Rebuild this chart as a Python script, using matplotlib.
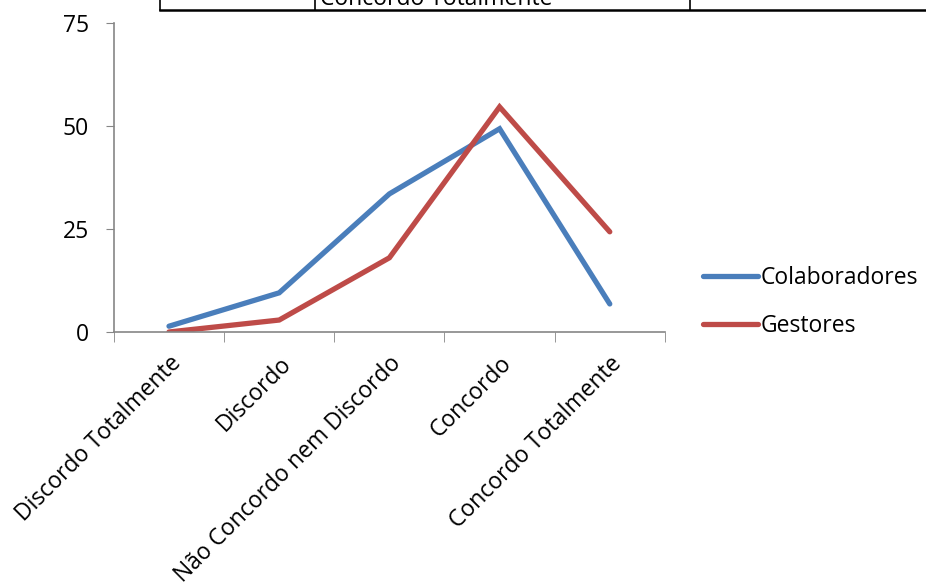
import matplotlib.pyplot as plt
import numpy as np

categorias = ["Discordo Totalmente", "Discordo", "Não Concordo nem Discordo",
              "Concordo", "Concordo Totalmente"]
colaboradores = [1.4, 9.5, 33.5, 49.3, 6.8]
gestores = [0.0, 2.9, 18.0, 54.6, 24.3]
y_ticks = [0, 25, 50, 75]

plt.rcParams['font.family'] = ['Open Sans', 'DejaVu Sans']
fs = 16.5

fig = plt.figure(figsize=(9.26, 5.85), dpi=100)
ax = fig.add_axes([0.123, 0.4325, 0.595, 0.5285])

x = np.arange(len(categorias))
ax.plot(x, colaboradores, color='#4A7EBB', lw=3.8, label='Colaboradores',
        solid_capstyle='round', solid_joinstyle='miter')
ax.plot(x, gestores, color='#BE4B48', lw=3.8, label='Gestores',
        solid_capstyle='round', solid_joinstyle='miter')

ax.set_xlim(-0.5, len(categorias) - 0.5)
ax.set_ylim(0, 75)
ax.set_yticks(y_ticks)
ax.tick_params(axis='y', labelsize=fs, length=6, color='#868686', pad=12)

ax.set_xticks(x)
ax.set_xticklabels(categorias, rotation=45, ha='right', rotation_mode='anchor', fontsize=fs)
ax.tick_params(axis='x', which='major', length=0, pad=14)
ax.set_xticks(np.arange(-0.5, len(categorias)), minor=True)
ax.tick_params(axis='x', which='minor', length=7, color='#868686')

for s in ['top', 'right']:
    ax.spines[s].set_visible(False)
for s in ['left', 'bottom']:
    ax.spines[s].set_color('#868686')
    ax.spines[s].set_linewidth(1.2)

fig.legend(*ax.get_legend_handles_labels(), loc='center left',
           bbox_to_anchor=(703/926, 1 - 302/585), frameon=False, fontsize=fs,
           borderpad=0, borderaxespad=0, handlelength=2.4, handletextpad=0.12,
           labelspacing=1.05)

# pedaco da tabela que aparece no topo
fig.add_artist(plt.Line2D([160/926, 1.0], [1 - 10/585] * 2, color='black', lw=1.8))
for xv in [160, 315, 690]:
    fig.add_artist(plt.Line2D([xv/926] * 2, [1 - 10/585, 1.0], color='black', lw=1.2))
fig.text(320/926, 1 - 5/585, "Concordo Totalmente", fontsize=fs, va='baseline')

fig.savefig("out.png", dpi=100)
